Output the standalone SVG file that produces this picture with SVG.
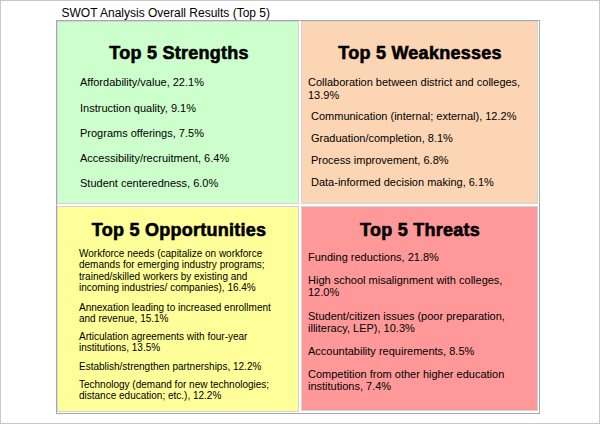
<svg xmlns="http://www.w3.org/2000/svg" width="600" height="425" viewBox="0 0 600 425">
<style>
text{font-family:"Liberation Sans",Arial,sans-serif;fill:#000}
.h{font-size:18px;font-weight:bold;text-anchor:middle;stroke:#000;stroke-width:0.6;letter-spacing:0.25px}
.b{font-size:11px}
.s{font-size:10px}
.cell{stroke:#d4d4d4;stroke-width:1}
</style>
<rect x="0.5" y="0.5" width="599" height="423" fill="#fff" stroke="#c8c8c8"/>
<text x="61.5" y="16.5" font-size="12">SWOT Analysis Overall Results (Top 5)</text>
<rect x="56.5" y="20.5" width="483" height="393" fill="#fff" stroke="#a8a8a8"/>
<g id="strengths">
<rect class="cell" x="57.5" y="21.5" width="241" height="182" fill="#ccffcc"/>
<text class="h" x="179" y="59">Top 5 Strengths</text>
<text class="b" x="80" y="86">Affordability/value, 22.1%</text>
<text class="b" x="80" y="111.5">Instruction quality, 9.1%</text>
<text class="b" x="80" y="136.5">Programs offerings, 7.5%</text>
<text class="b" x="80" y="162">Accessibility/recruitment, 6.4%</text>
<text class="b" x="80" y="187">Student centeredness, 6.0%</text>
</g>
<g id="weaknesses">
<rect class="cell" x="301.5" y="21.5" width="236" height="182" fill="#fcd5b4"/>
<text class="h" x="420" y="59">Top 5 Weaknesses</text>
<text class="b" x="308" y="86">Collaboration between district and colleges,</text>
<text class="b" x="308" y="98.5">13.9%</text>
<text class="b" x="311" y="120">Communication (internal; external), 12.2%</text>
<text class="b" x="311" y="141.5">Graduation/completion, 8.1%</text>
<text class="b" x="311" y="164">Process improvement, 6.8%</text>
<text class="b" x="311" y="186">Data-informed decision making, 6.1%</text>
</g>
<g id="opportunities">
<rect class="cell" x="57.5" y="206.5" width="241" height="205" fill="#ffff99"/>
<text class="h" x="179" y="236">Top 5 Opportunities</text>
<text class="s" x="79" y="256.5">Workforce needs (capitalize on workforce</text>
<text class="s" x="79" y="267.5">demands for emerging industry programs;</text>
<text class="s" x="79" y="280">trained/skilled workers by existing and</text>
<text class="s" x="79" y="291">incoming industries/ companies), 16.4%</text>
<text class="s" x="79" y="311">Annexation leading to increased enrollment</text>
<text class="s" x="79" y="321.5">and revenue, 15.1%</text>
<text class="s" x="79" y="340">Articulation agreements with four-year</text>
<text class="s" x="79" y="350.5">institutions, 13.5%</text>
<text class="s" x="79" y="370">Establish/strengthen partnerships, 12.2%</text>
<text class="s" x="79" y="387.5">Technology (demand for new technologies;</text>
<text class="s" x="79" y="398.5">distance education; etc.), 12.2%</text>
</g>
<g id="threats">
<rect class="cell" x="301.5" y="206.5" width="236" height="204" fill="#ff9999"/>
<text class="h" x="420" y="236">Top 5 Threats</text>
<text class="b" x="308" y="260.5">Funding reductions, 21.8%</text>
<text class="b" x="308" y="283.5">High school misalignment with colleges,</text>
<text class="b" x="308" y="296">12.0%</text>
<text class="b" x="308" y="319.5">Student/citizen issues (poor preparation,</text>
<text class="b" x="308" y="331.5">illiteracy, LEP), 10.3%</text>
<text class="b" x="308" y="355">Accountability requirements, 8.5%</text>
<text class="b" x="308" y="377.5">Competition from other higher education</text>
<text class="b" x="308" y="389.5">institutions, 7.4%</text>
</g>
<g id="connectors"></g>
</svg>
